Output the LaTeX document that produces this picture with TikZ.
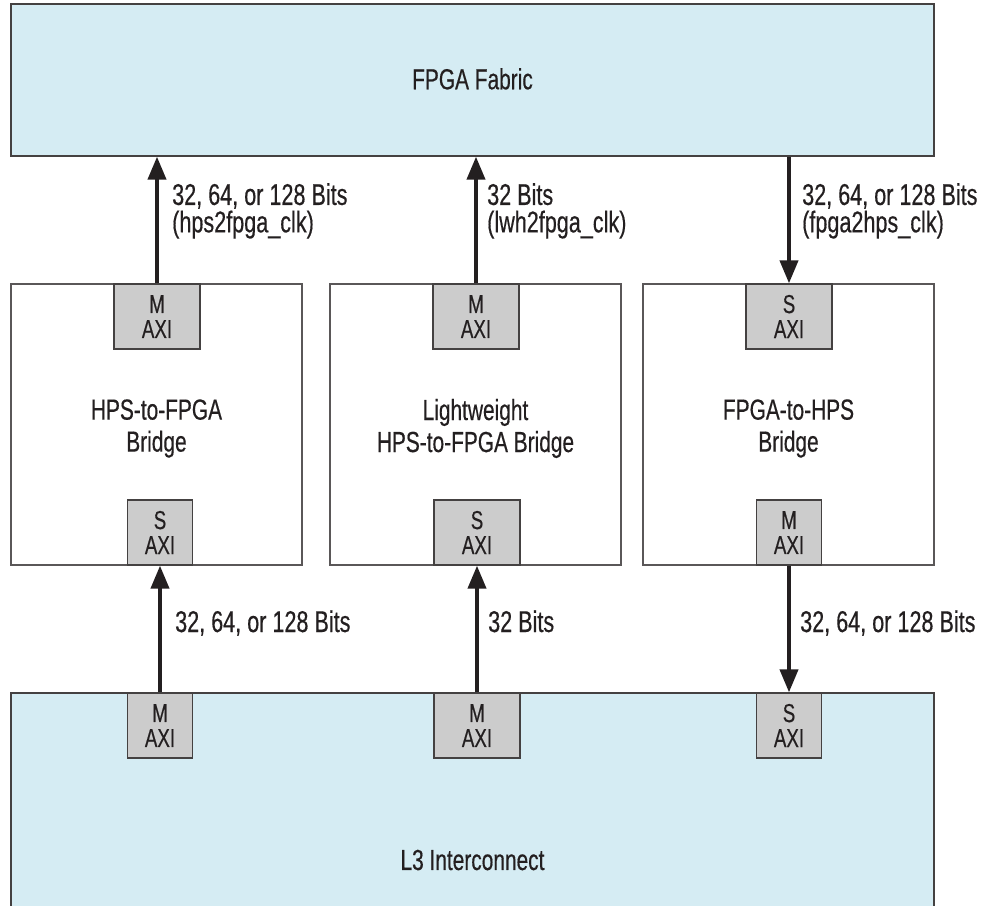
\documentclass[tikz,border=0pt]{standalone}
\usepackage{fontspec}
\setmainfont[FakeStretch=0.72,FakeBold=0.4]{Liberation Sans}
\usetikzlibrary{arrows.meta}
\definecolor{fab}{HTML}{D5ECF3}
\definecolor{axig}{HTML}{CCCCCC}
\definecolor{ink}{HTML}{231F20}
\begin{document}
\begin{tikzpicture}[x=1pt,y=-1pt,
  region/.style={draw=ink!85, line width=1.3pt, fill=fab, inner sep=0pt, text=ink,
    font=\fontsize{29}{30}\selectfont},
  bridgebox/.style={draw=ink!75, line width=1.3pt, fill=white, inner sep=0pt,
    minimum width=291, minimum height=281},
  btext/.style={align=center, inner sep=0pt, text=ink, font=\fontsize{29}{32}\selectfont},
  axi/.style={draw=ink!85, line width=1.3pt, fill=axig, align=center, inner sep=0pt,
    text=ink, font=\fontsize{26}{25}\selectfont, minimum height=65},
  axiw/.style={axi, minimum width=86},
  axin/.style={axi, minimum width=65},
  lbl/.style={align=left, inner sep=0pt, text=ink, font=\fontsize{30}{27.4}\selectfont},
  arr/.style={line width=4pt, draw=ink, -{Triangle[length=23pt,width=18pt]}}]
\useasboundingbox (0,0) rectangle (982,905);

% FPGA fabric
\node[region, minimum width=923, minimum height=152] (fpga) at (472.5,80) {\raisebox{2.5pt}{FPGA Fabric}};

% bridges
\node[bridgebox, label={[btext, yshift=-4pt]center:{HPS-to-FPGA\\Bridge}}] (b1) at (156.5,424.5) {};
\node[bridgebox, label={[btext, yshift=-4pt]center:{Lightweight\\HPS-to-FPGA Bridge}}] (b2) at (475.5,424.5) {};
\node[bridgebox, label={[btext, yshift=-4pt]center:{FPGA-to-HPS\\Bridge}}] (b3) at (788.5,424.5) {};

% bridge ports
\node[axiw] (b1m) at (157,316.5) {M\\AXI};
\node[axin] (b1s) at (160,532.5) {S\\AXI};
\node[axiw] (b2m) at (476,316.5) {M\\AXI};
\node[axiw] (b2s) at (477,532.5) {S\\AXI};
\node[axiw] (b3s) at (789,316.5) {S\\AXI};
\node[axin] (b3m) at (789,532.5) {M\\AXI};

% L3 interconnect
\node[region, minimum width=923, minimum height=334] (l3) at (472.5,860) {L3 Interconnect};
\node[axin] (l1) at (160,725.5) {M\\AXI};
\node[axiw] (l2) at (477,725.5) {M\\AXI};
\node[axin] (l3s) at (789,725.5) {S\\AXI};

% connectors
\draw[arr] (b1m.north) -- (b1m.north |- fpga.south);
\draw[arr] (b2m.north) -- (b2m.north |- fpga.south);
\draw[arr] (fpga.south -| b3s.north) -- (b3s.north);
\draw[arr] (l1.north) -- (l1.north |- b1s.south);
\draw[arr] (l2.north) -- (l2.north |- b2s.south);
\draw[arr] (b3m.south) -- (l3s.north);

% labels
\node[lbl, anchor=north west] (t1) at (172,183) {32, 64, or 128 Bits\\(hps2fpga\_clk)};
\node[lbl, anchor=north west] (t2) at (487,183) {32 Bits\\(lwh2fpga\_clk)};
\node[lbl, anchor=north west] (t3) at (802,183) {32, 64, or 128 Bits\\(fpga2hps\_clk)};
\node[lbl, anchor=base west] (u1) at (175,632) {32, 64, or 128 Bits};
\node[lbl, anchor=base west] (u2) at (488,632) {32 Bits};
\node[lbl, anchor=base west] (u3) at (800,632) {32, 64, or 128 Bits};
\end{tikzpicture}
\end{document}
